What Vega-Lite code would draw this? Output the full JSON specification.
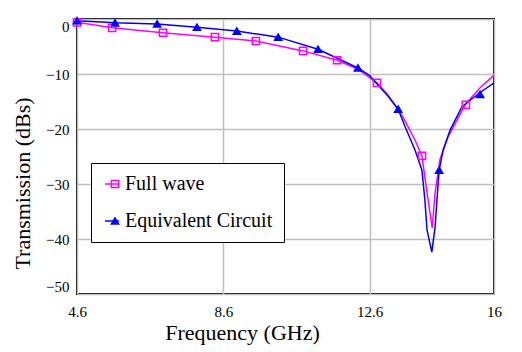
{
  "$schema": "https://vega.github.io/schema/vega-lite/v6.json",
  "width": 417,
  "height": 275,
  "autosize": "none",
  "padding": {"left": 77, "top": 19, "right": 28, "bottom": 58},
  "background": "white",
  "config": {
    "view": {"stroke": "black", "strokeWidth": 2},
    "font": "Times New Roman, Liberation Serif, serif"
  },
  "datasets": {
    "curve": [
      {"series": "Full wave", "f": 4.6, "db": -0.6},
      {"series": "Full wave", "f": 5.56, "db": -1.6},
      {"series": "Full wave", "f": 6.95, "db": -2.5},
      {"series": "Full wave", "f": 8.37, "db": -3.3},
      {"series": "Full wave", "f": 9.49, "db": -4.0},
      {"series": "Full wave", "f": 10.78, "db": -5.8},
      {"series": "Full wave", "f": 11.71, "db": -7.5},
      {"series": "Full wave", "f": 12.3, "db": -9.2},
      {"series": "Full wave", "f": 12.8, "db": -11.6},
      {"series": "Full wave", "f": 13.1, "db": -13.8},
      {"series": "Full wave", "f": 13.51, "db": -17.8},
      {"series": "Full wave", "f": 13.84, "db": -22.0},
      {"series": "Full wave", "f": 14.03, "db": -24.9},
      {"series": "Full wave", "f": 14.17, "db": -31.6},
      {"series": "Full wave", "f": 14.31, "db": -38.0},
      {"series": "Full wave", "f": 14.39, "db": -31.6},
      {"series": "Full wave", "f": 14.52, "db": -25.6},
      {"series": "Full wave", "f": 14.74, "db": -21.5},
      {"series": "Full wave", "f": 15.21, "db": -15.6},
      {"series": "Full wave", "f": 15.62, "db": -12.5},
      {"series": "Full wave", "f": 16.0, "db": -10.2},
      {"series": "Equivalent Circuit", "f": 4.6, "db": -0.3},
      {"series": "Equivalent Circuit", "f": 5.64, "db": -0.7},
      {"series": "Equivalent Circuit", "f": 6.79, "db": -0.9},
      {"series": "Equivalent Circuit", "f": 7.88, "db": -1.5},
      {"series": "Equivalent Circuit", "f": 8.97, "db": -2.2},
      {"series": "Equivalent Circuit", "f": 10.1, "db": -3.3},
      {"series": "Equivalent Circuit", "f": 11.19, "db": -5.5},
      {"series": "Equivalent Circuit", "f": 12.28, "db": -8.9},
      {"series": "Equivalent Circuit", "f": 12.6, "db": -10.3},
      {"series": "Equivalent Circuit", "f": 13.1, "db": -14.0},
      {"series": "Equivalent Circuit", "f": 13.38, "db": -16.4},
      {"series": "Equivalent Circuit", "f": 13.57, "db": -19.6},
      {"series": "Equivalent Circuit", "f": 13.84, "db": -23.8},
      {"series": "Equivalent Circuit", "f": 14.03, "db": -27.5},
      {"series": "Equivalent Circuit", "f": 14.11, "db": -32.9},
      {"series": "Equivalent Circuit", "f": 14.17, "db": -38.4},
      {"series": "Equivalent Circuit", "f": 14.3, "db": -42.4},
      {"series": "Equivalent Circuit", "f": 14.39, "db": -37.8},
      {"series": "Equivalent Circuit", "f": 14.44, "db": -32.9},
      {"series": "Equivalent Circuit", "f": 14.5, "db": -27.5},
      {"series": "Equivalent Circuit", "f": 14.61, "db": -23.8},
      {"series": "Equivalent Circuit", "f": 14.8, "db": -20.2},
      {"series": "Equivalent Circuit", "f": 15.12, "db": -16.0},
      {"series": "Equivalent Circuit", "f": 15.59, "db": -13.5},
      {"series": "Equivalent Circuit", "f": 16.0, "db": -11.6}
    ],
    "markers": [
      {"trace": "Full wave", "f": 4.6, "db": -0.6},
      {"trace": "Full wave", "f": 5.56, "db": -1.6},
      {"trace": "Full wave", "f": 6.95, "db": -2.5},
      {"trace": "Full wave", "f": 8.37, "db": -3.3},
      {"trace": "Full wave", "f": 9.49, "db": -4.0},
      {"trace": "Full wave", "f": 10.78, "db": -5.8},
      {"trace": "Full wave", "f": 11.71, "db": -7.5},
      {"trace": "Full wave", "f": 12.8, "db": -11.6},
      {"trace": "Full wave", "f": 14.03, "db": -24.9},
      {"trace": "Full wave", "f": 15.23, "db": -15.6},
      {"trace": "Equivalent Circuit", "f": 4.6, "db": -0.3},
      {"trace": "Equivalent Circuit", "f": 5.64, "db": -0.7},
      {"trace": "Equivalent Circuit", "f": 6.79, "db": -0.9},
      {"trace": "Equivalent Circuit", "f": 7.88, "db": -1.5},
      {"trace": "Equivalent Circuit", "f": 8.97, "db": -2.2},
      {"trace": "Equivalent Circuit", "f": 10.1, "db": -3.3},
      {"trace": "Equivalent Circuit", "f": 11.19, "db": -5.5},
      {"trace": "Equivalent Circuit", "f": 12.28, "db": -8.9},
      {"trace": "Equivalent Circuit", "f": 13.38, "db": -16.4},
      {"trace": "Equivalent Circuit", "f": 14.5, "db": -27.5},
      {"trace": "Equivalent Circuit", "f": 15.62, "db": -13.7}
    ]
  },
  "encoding": {
    "x": {
      "field": "f",
      "type": "quantitative",
      "scale": {"domain": [4.6, 16], "nice": false, "zero": false},
      "axis": {
        "title": "Frequency (GHz)",
        "values": [4.6, 8.6, 12.6, 16],
        "labelExpr": "datum.value == 16 ? '16' : format(datum.value, '.1f')",
        "domain": false,
        "ticks": false,
        "grid": true,
        "gridColor": "#c0c0c0",
        "gridWidth": 1.5,
        "labelFont": "Times New Roman, Liberation Serif, serif",
        "labelFontSize": 15,
        "labelColor": "black",
        "labelPadding": 10,
        "labelFlush": false,
        "titleFont": "Times New Roman, Liberation Serif, serif",
        "titleFontSize": 22,
        "titleFontWeight": "normal",
        "titleColor": "black",
        "titleX": 165,
        "titleAlign": "center",
        "titlePadding": 3
      }
    },
    "y": {
      "field": "db",
      "type": "quantitative",
      "scale": {"domain": [-50, 0], "nice": false},
      "axis": {
        "title": "Transmission (dBs)",
        "values": [-50, -40, -30, -20, -10, 0],
        "domain": false,
        "ticks": false,
        "grid": true,
        "gridColor": "#c0c0c0",
        "gridWidth": 1.5,
        "labelFont": "Times New Roman, Liberation Serif, serif",
        "labelFontSize": 15,
        "labelColor": "black",
        "labelPadding": 8,
        "labelFlush": true,
        "titleFont": "Times New Roman, Liberation Serif, serif",
        "titleFontSize": 22,
        "titleFontWeight": "normal",
        "titleColor": "black",
        "titleY": 164,
        "titleAlign": "center",
        "titlePadding": 11
      }
    }
  },
  "layer": [
    {
      "data": {"name": "curve"},
      "mark": {"type": "line", "strokeWidth": 1.5},
      "encoding": {
        "color": {
          "field": "series",
          "type": "nominal",
          "scale": {"domain": ["Full wave", "Equivalent Circuit"], "range": ["#ff00ff", "#0000ff"]},
          "legend": {
            "orient": "none",
            "legendX": 14,
            "legendY": 144,
            "title": null,
            "strokeColor": "black",
            "fillColor": "white",
            "padding": 11,
            "rowPadding": 17,
            "symbolType": "stroke",
            "symbolSize": 196,
            "symbolStrokeWidth": 1.5,
            "labelFont": "Times New Roman, Liberation Serif, serif",
            "labelFontSize": 20,
            "labelLimit": 300,
            "labelColor": "black",
            "labelOffset": 3,
            "zindex": 1
          }
        }
      }
    },
    {
      "data": {"name": "markers"},
      "mark": {"type": "point", "size": 52, "strokeWidth": 1.5, "opacity": 1},
      "encoding": {
        "shape": {
          "field": "trace",
          "type": "nominal",
          "scale": {"domain": ["Equivalent Circuit", "Full wave"], "range": ["triangle-up", "square"]},
          "legend": {
            "orient": "none",
            "legendX": 17,
            "legendY": 144,
            "values": ["Full wave", "Equivalent Circuit"],
            "title": null,
            "padding": 11,
            "rowPadding": 17,
            "symbolSize": 52,
            "symbolStrokeWidth": 1.5,
            "labelFont": "Times New Roman, Liberation Serif, serif",
            "labelFontSize": 20,
            "labelExpr": "''",
            "labelOffset": 3,
            "zindex": 2
          }
        },
        "stroke": {
          "field": "trace",
          "type": "nominal",
          "scale": {"domain": ["Equivalent Circuit", "Full wave"], "range": ["#0000ff", "#ff00ff"]}
        },
        "fill": {
          "field": "trace",
          "type": "nominal",
          "scale": {"domain": ["Equivalent Circuit", "Full wave"], "range": ["#0000ff", "rgba(255,255,255,0)"]}
        }
      }
    }
  ]
}
